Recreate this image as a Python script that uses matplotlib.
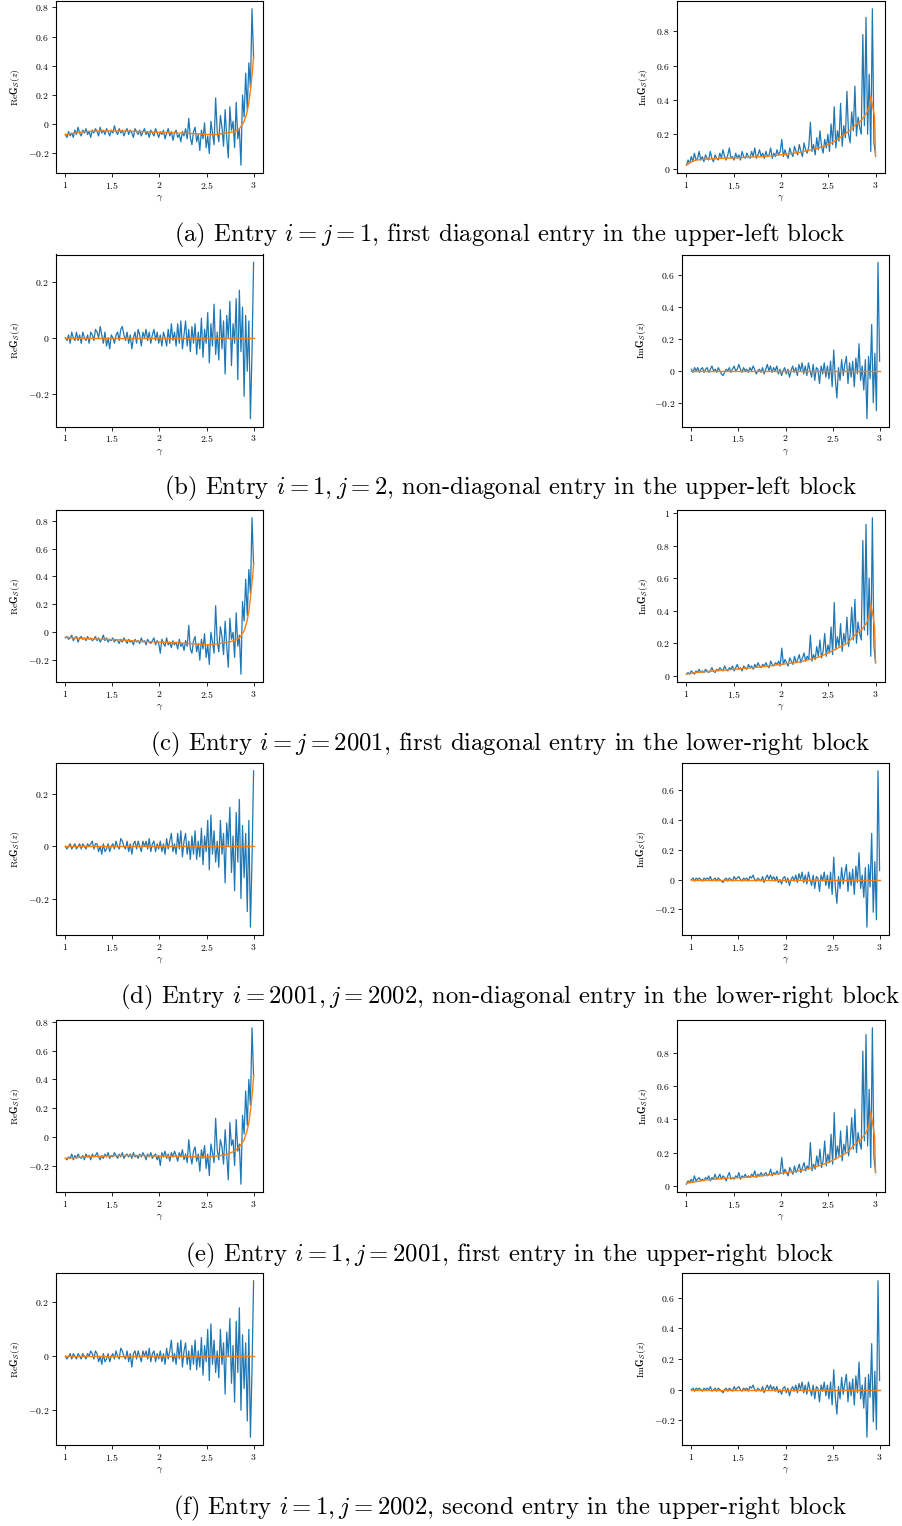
import numpy as np
import matplotlib
matplotlib.use("Agg")
import matplotlib.pyplot as plt
from matplotlib.ticker import FuncFormatter, MultipleLocator

plt.rcParams['mathtext.fontset'] = 'cm'
plt.rcParams['font.family'] = ['cmr10', 'DejaVu Serif']
plt.rcParams['axes.unicode_minus'] = False

# grid of gamma values for the noisy (blue) estimates
gamma = np.linspace(1, 3, 120)

# grid for the smooth (orange) curves
fit_gamma = [1.0, 1.05, 1.1, 1.2, 1.4, 1.6, 1.8, 2.0, 2.2, 2.4, 2.5, 2.6,
             2.7, 2.8, 2.85, 2.9, 2.93, 2.95, 2.97, 2.99, 3.0]
zero_gamma = [1.0, 3.0]
zero_fit = [0.0, 0.0]

# (a) i = j = 1
re_a = [-0.07, -0.09, -0.05, -0.08, -0.06, -0.09, -0.04, -0.07, -0.02, -0.06,
        -0.08, -0.04, -0.06, -0.03, -0.07, -0.05, -0.09, -0.04, -0.06, -0.03,
        -0.05, -0.08, -0.02, -0.06, -0.04, -0.07, -0.03, -0.05, -0.08, -0.04,
        -0.06, -0.01, -0.05, -0.07, -0.03, -0.06, -0.04, -0.08, -0.05, -0.03,
        -0.07, -0.04, -0.06, -0.09, -0.03, -0.05, -0.07, -0.04, -0.08, -0.05,
        -0.03, -0.07, -0.05, -0.09, -0.04, -0.06, -0.08, -0.03, -0.06, -0.09,
        -0.05, -0.07, -0.04, -0.10, -0.06, -0.03, -0.08, -0.05, -0.11, -0.06,
        -0.04, -0.09, -0.07, -0.12, -0.05, -0.08, -0.03, -0.10, 0.04, -0.09,
        -0.14, -0.05, -0.02, -0.12, -0.07, -0.18, -0.04, -0.10, 0.01, -0.16,
        -0.08, -0.20, 0.02, -0.06, -0.14, 0.18, -0.05, -0.12, 0.06, -0.02,
        -0.15, 0.10, -0.09, -0.23, 0.12, -0.04, 0.02, -0.16, 0.15, -0.10,
        -0.03, -0.28, 0.20, 0.05, 0.35, 0.10, 0.42, 0.25, 0.79, 0.45]
im_a = [0.02, 0.05, 0.03, 0.07, 0.04, 0.09, 0.05, 0.06, 0.10, 0.05,
        0.07, 0.04, 0.08, 0.06, 0.05, 0.10, 0.06, 0.04, 0.08, 0.06,
        0.05, 0.09, 0.06, 0.11, 0.07, 0.05, 0.08, 0.12, 0.06, 0.07,
        0.05, 0.09, 0.06, 0.08, 0.05, 0.10, 0.07, 0.06, 0.09, 0.07,
        0.06, 0.10, 0.07, 0.12, 0.06, 0.08, 0.11, 0.07, 0.09, 0.06,
        0.10, 0.07, 0.08, 0.12, 0.06, 0.09, 0.07, 0.11, 0.08, 0.10,
        0.17, 0.07, 0.11, 0.08, 0.06, 0.12, 0.09, 0.07, 0.13, 0.10,
        0.08, 0.14, 0.10, 0.07, 0.15, 0.11, 0.09, 0.13, 0.27, 0.10,
        0.14, 0.08, 0.18, 0.11, 0.22, 0.13, 0.09, 0.17, 0.12, 0.20,
        0.10, 0.26, 0.14, 0.36, 0.12, 0.22, 0.16, 0.38, 0.13, 0.25,
        0.18, 0.45, 0.20, 0.15, 0.33, 0.22, 0.48, 0.19, 0.30, 0.24,
        0.20, 0.78, 0.25, 0.88, 0.20, 0.55, 0.10, 0.93, 0.15, 0.08]
re_a_fit = [-0.07, -0.065, -0.06, -0.05, -0.045, -0.045, -0.05, -0.055, -0.06, -0.065, -0.07,
            -0.07, -0.06, -0.05, -0.03, 0.02, 0.08, 0.15, 0.25, 0.38, 0.46]
im_a_fit = [0.02, 0.04, 0.05, 0.055, 0.06, 0.065, 0.07, 0.08, 0.095, 0.12, 0.14,
            0.17, 0.21, 0.26, 0.28, 0.32, 0.35, 0.42, 0.36, 0.30, 0.07]

# (b) i = 1, j = 2
re_b = [0.00, -0.01, 0.01, -0.02, 0.02, 0.00, -0.01, 0.02, -0.01, 0.01,
        -0.02, 0.02, 0.00, -0.01, 0.01, -0.02, 0.02, 0.01, -0.01, 0.03,
        0.02, 0.00, 0.04, 0.01, -0.02, 0.02, -0.03, 0.00, -0.04, 0.01,
        0.00, -0.02, 0.01, 0.02, -0.01, 0.03, 0.04, 0.01, -0.01, 0.02,
        -0.02, 0.01, -0.04, 0.00, 0.02, -0.02, 0.03, 0.01, -0.03, 0.02,
        0.00, 0.03, -0.01, 0.02, -0.02, 0.01, 0.03, -0.01, 0.02, -0.02,
        0.01, -0.03, 0.02, 0.00, -0.03, 0.03, -0.02, 0.05, -0.01, 0.02,
        -0.03, 0.05, -0.02, 0.06, -0.04, 0.01, 0.06, -0.03, 0.03, -0.05,
        0.04, -0.02, 0.05, -0.06, 0.02, -0.04, 0.07, -0.07, 0.03, -0.02,
        0.09, -0.09, 0.05, -0.03, 0.12, -0.06, 0.02, -0.08, 0.10, -0.04,
        0.06, -0.13, 0.08, 0.00, 0.13, -0.10, 0.05, -0.02, 0.14, -0.15,
        0.17, -0.05, 0.11, -0.21, 0.08, -0.12, 0.06, -0.29, -0.05, 0.27]
im_b = [0.01, -0.01, 0.02, 0.00, 0.02, -0.01, 0.01, 0.02, -0.01, 0.01,
        0.02, -0.01, 0.01, 0.03, 0.00, 0.01, -0.01, 0.02, 0.00, -0.02,
        -0.03, -0.01, 0.01, 0.00, 0.02, -0.01, 0.01, 0.03, 0.00, 0.01,
        0.04, 0.01, -0.01, 0.02, 0.00, 0.01, -0.01, 0.02, 0.00, 0.03,
        0.01, -0.02, 0.00, 0.01, -0.01, 0.02, -0.02, 0.01, 0.04, 0.00,
        0.03, -0.01, 0.02, 0.00, 0.03, -0.02, 0.01, -0.03, 0.00, 0.02,
        -0.02, 0.01, -0.04, 0.00, 0.03, -0.01, 0.02, -0.03, 0.04, 0.00,
        0.05, -0.02, 0.03, -0.03, 0.05, 0.00, -0.04, 0.04, -0.06, 0.02,
        0.01, -0.08, 0.03, -0.02, 0.05, -0.04, 0.03, -0.05, 0.06, -0.10,
        0.13, -0.05, -0.17, 0.02, -0.06, 0.07, -0.03, 0.04, 0.09, -0.08,
        0.05, -0.04, 0.06, -0.10, 0.08, -0.02, 0.17, -0.06, 0.03, -0.12,
        0.07, -0.30, 0.09, -0.05, 0.29, -0.20, 0.11, -0.25, 0.68, 0.06]

# (c) i = j = 2001
re_c = [-0.04, -0.03, -0.05, -0.04, -0.02, -0.06, -0.04, -0.03, -0.07, -0.04,
        -0.03, -0.05, -0.04, -0.06, -0.03, -0.05, -0.04, -0.06, -0.05, -0.03,
        -0.06, -0.04, -0.07, -0.05, -0.02, -0.06, -0.04, -0.07, -0.05, -0.06,
        -0.04, -0.07, -0.05, -0.06, -0.08, -0.05, -0.07, -0.04, -0.06, -0.08,
        -0.05, -0.07, -0.06, -0.09, -0.05, -0.07, -0.06, -0.08, -0.04, -0.07,
        -0.06, -0.09, -0.05, -0.07, -0.08, -0.06, -0.04, -0.09, -0.06, -0.08,
        -0.15, -0.05, -0.08, -0.10, -0.04, -0.09, -0.07, -0.11, -0.06, -0.09,
        -0.07, -0.12, -0.05, -0.10, -0.08, -0.13, -0.06, -0.10, 0.05, -0.12,
        -0.15, -0.06, -0.03, -0.14, -0.08, -0.20, -0.05, -0.12, -0.01, -0.18,
        -0.09, -0.23, 0.00, -0.07, -0.15, 0.19, -0.06, -0.14, 0.04, -0.03,
        -0.16, 0.08, -0.10, -0.25, 0.10, -0.05, 0.00, -0.18, 0.14, -0.10,
        -0.02, -0.30, 0.22, 0.08, 0.38, 0.12, 0.45, 0.28, 0.82, 0.48]
im_c = [0.01, 0.02, 0.01, 0.03, 0.02, 0.01, 0.03, 0.02, 0.04, 0.02,
        0.03, 0.02, 0.04, 0.03, 0.02, 0.03, 0.05, 0.03, 0.02, 0.04,
        0.03, 0.05, 0.04, 0.03, 0.06, 0.04, 0.03, 0.05, 0.04, 0.06,
        0.03, 0.05, 0.07, 0.04, 0.05, 0.03, 0.06, 0.05, 0.04, 0.07,
        0.05, 0.06, 0.04, 0.07, 0.05, 0.08, 0.06, 0.05, 0.07, 0.06,
        0.08, 0.06, 0.05, 0.09, 0.07, 0.06, 0.08, 0.07, 0.09, 0.06,
        0.17, 0.07, 0.10, 0.08, 0.06, 0.11, 0.09, 0.07, 0.12, 0.08,
        0.10, 0.13, 0.08, 0.11, 0.14, 0.09, 0.12, 0.10, 0.25, 0.09,
        0.13, 0.10, 0.18, 0.12, 0.22, 0.11, 0.15, 0.26, 0.12, 0.19,
        0.14, 0.30, 0.13, 0.45, 0.16, 0.24, 0.18, 0.32, 0.15, 0.26,
        0.20, 0.36, 0.18, 0.25, 0.42, 0.22, 0.47, 0.20, 0.33, 0.26,
        0.22, 0.83, 0.28, 0.93, 0.25, 0.60, 0.12, 0.97, 0.18, 0.08]
re_c_fit = [-0.035, -0.038, -0.04, -0.045, -0.05, -0.055, -0.065, -0.07, -0.075, -0.085, -0.09,
            -0.085, -0.075, -0.06, -0.04, 0.01, 0.08, 0.15, 0.27, 0.40, 0.49]
im_c_fit = [0.01, 0.015, 0.02, 0.025, 0.035, 0.045, 0.055, 0.07, 0.085, 0.115, 0.14,
            0.17, 0.20, 0.26, 0.28, 0.32, 0.36, 0.44, 0.38, 0.30, 0.08]

# (d) i = 2001, j = 2002
re_d = [0.00, -0.01, 0.00, 0.01, -0.01, 0.00, 0.01, -0.01, 0.00, 0.01,
        -0.01, 0.01, 0.00, -0.01, 0.01, 0.00, 0.01, 0.02, -0.01, 0.01,
        0.01, -0.02, 0.00, -0.03, 0.01, -0.02, -0.01, 0.01, -0.02, 0.00,
        0.01, -0.01, 0.02, 0.00, -0.01, 0.03, 0.02, 0.00, -0.01, 0.02,
        -0.02, 0.01, -0.03, 0.01, 0.02, -0.01, 0.02, 0.00, -0.02, 0.02,
        0.00, 0.02, -0.01, 0.03, -0.02, 0.01, 0.02, -0.02, 0.01, -0.01,
        0.02, -0.02, 0.01, -0.03, 0.03, -0.01, 0.02, 0.05, -0.02, 0.01,
        -0.03, 0.05, -0.01, 0.06, -0.04, 0.02, 0.05, -0.03, 0.02, -0.05,
        0.04, -0.03, 0.06, -0.05, 0.02, -0.04, 0.07, -0.07, 0.04, -0.02,
        0.10, -0.09, 0.12, -0.03, 0.06, -0.06, 0.02, -0.08, 0.10, -0.03,
        0.05, -0.14, 0.09, 0.00, 0.15, -0.10, 0.04, -0.17, 0.13, -0.06,
        0.18, -0.20, 0.08, -0.12, 0.05, -0.25, 0.10, -0.31, -0.05, 0.29]
im_d = [0.00, 0.01, -0.01, 0.01, 0.00, 0.01, 0.00, -0.01, 0.01, 0.00,
        0.01, 0.00, 0.02, -0.01, 0.00, 0.01, -0.01, 0.01, 0.00, -0.01,
        -0.02, 0.00, 0.01, -0.01, 0.01, 0.00, -0.01, 0.02, 0.00, 0.01,
        0.02, 0.00, -0.01, 0.01, 0.00, 0.01, -0.01, 0.02, 0.01, 0.03,
        0.00, -0.01, 0.01, 0.00, -0.01, 0.02, -0.02, 0.01, 0.03, 0.00,
        0.03, 0.00, 0.02, -0.01, 0.02, -0.02, 0.00, -0.03, 0.01, 0.02,
        -0.02, 0.01, -0.04, 0.00, 0.02, -0.01, 0.03, -0.02, 0.04, 0.00,
        0.05, -0.02, 0.03, -0.03, 0.05, 0.00, -0.04, 0.03, -0.06, 0.02,
        0.01, -0.08, 0.03, -0.01, 0.05, -0.04, 0.03, -0.06, 0.05, -0.10,
        0.15, -0.05, -0.16, 0.02, -0.06, 0.08, -0.03, 0.04, 0.10, -0.08,
        0.05, -0.04, 0.07, -0.10, 0.09, -0.02, 0.18, -0.06, 0.03, -0.12,
        0.08, -0.32, 0.10, -0.05, 0.31, -0.22, 0.12, -0.27, 0.73, 0.06]

# (e) i = 1, j = 2001
re_e = [-0.15, -0.16, -0.14, -0.15, -0.12, -0.16, -0.13, -0.15, -0.12, -0.14,
        -0.15, -0.13, -0.16, -0.12, -0.14, -0.13, -0.16, -0.12, -0.14, -0.13,
        -0.11, -0.14, -0.16, -0.13, -0.15, -0.12, -0.14, -0.11, -0.15, -0.13,
        -0.14, -0.11, -0.13, -0.15, -0.12, -0.14, -0.11, -0.15, -0.13, -0.12,
        -0.14, -0.12, -0.15, -0.11, -0.14, -0.13, -0.15, -0.12, -0.14, -0.11,
        -0.13, -0.16, -0.12, -0.14, -0.11, -0.15, -0.13, -0.12, -0.16, -0.13,
        -0.20, -0.11, -0.14, -0.10, -0.15, -0.12, -0.17, -0.11, -0.14, -0.10,
        -0.13, -0.17, -0.11, -0.14, -0.09, -0.16, -0.12, -0.18, -0.02, -0.13,
        -0.19, -0.10, -0.07, -0.17, -0.12, -0.24, -0.09, -0.15, -0.06, -0.22,
        -0.12, -0.27, -0.05, -0.11, -0.18, 0.13, -0.09, -0.16, -0.02, -0.07,
        -0.19, 0.05, -0.12, -0.30, 0.10, -0.06, -0.02, -0.20, 0.12, -0.10,
        -0.05, -0.33, 0.15, 0.02, 0.32, 0.08, 0.40, 0.22, 0.76, 0.42]
im_e = [0.01, 0.03, 0.02, 0.04, 0.02, 0.06, 0.03, 0.04, 0.05, 0.03,
        0.04, 0.03, 0.05, 0.04, 0.06, 0.03, 0.05, 0.04, 0.07, 0.04,
        0.05, 0.07, 0.04, 0.06, 0.05, 0.03, 0.06, 0.08, 0.04, 0.05,
        0.04, 0.06, 0.05, 0.08, 0.04, 0.06, 0.05, 0.07, 0.05, 0.06,
        0.05, 0.07, 0.06, 0.09, 0.05, 0.07, 0.06, 0.08, 0.06, 0.07,
        0.08, 0.06, 0.07, 0.10, 0.06, 0.08, 0.07, 0.09, 0.07, 0.08,
        0.17, 0.07, 0.10, 0.08, 0.06, 0.11, 0.09, 0.07, 0.12, 0.08,
        0.10, 0.13, 0.08, 0.11, 0.14, 0.09, 0.12, 0.10, 0.26, 0.09,
        0.13, 0.10, 0.18, 0.12, 0.22, 0.11, 0.15, 0.27, 0.12, 0.19,
        0.14, 0.31, 0.13, 0.44, 0.16, 0.24, 0.18, 0.33, 0.15, 0.25,
        0.20, 0.36, 0.18, 0.25, 0.41, 0.22, 0.46, 0.20, 0.32, 0.26,
        0.22, 0.81, 0.27, 0.91, 0.24, 0.58, 0.11, 0.95, 0.17, 0.08]
re_e_fit = [-0.15, -0.147, -0.145, -0.14, -0.135, -0.13, -0.13, -0.135, -0.135, -0.14, -0.14,
            -0.135, -0.125, -0.10, -0.07, -0.02, 0.04, 0.10, 0.20, 0.33, 0.43]
im_e_fit = [0.015, 0.02, 0.025, 0.035, 0.045, 0.05, 0.06, 0.075, 0.09, 0.12, 0.14,
            0.17, 0.20, 0.26, 0.28, 0.32, 0.36, 0.44, 0.37, 0.30, 0.08]

# (f) i = 1, j = 2002
re_f = [0.00, -0.01, 0.00, 0.01, -0.01, 0.01, 0.00, -0.01, 0.01, 0.00,
        -0.01, 0.01, 0.00, -0.01, 0.01, 0.00, 0.02, 0.01, -0.01, 0.02,
        0.01, -0.02, 0.00, -0.03, 0.01, -0.02, -0.01, 0.01, -0.02, 0.00,
        0.01, -0.01, 0.02, 0.00, -0.01, 0.03, 0.02, 0.00, -0.01, 0.02,
        -0.02, 0.01, -0.04, 0.01, 0.02, -0.01, 0.02, 0.00, -0.02, 0.02,
        0.00, 0.02, -0.01, 0.03, -0.02, 0.01, 0.02, -0.02, 0.01, -0.01,
        0.02, -0.02, 0.01, -0.03, 0.03, -0.01, 0.02, 0.06, -0.02, 0.01,
        -0.03, 0.05, -0.01, 0.06, -0.04, 0.02, 0.05, -0.03, 0.02, -0.05,
        0.04, -0.03, 0.06, -0.05, 0.02, -0.04, 0.07, -0.07, 0.04, -0.02,
        0.10, -0.09, 0.12, -0.03, 0.06, -0.06, 0.02, -0.08, 0.10, -0.03,
        0.05, -0.14, 0.09, 0.00, 0.14, -0.10, 0.04, -0.17, 0.13, -0.06,
        0.18, -0.20, 0.08, -0.12, 0.05, -0.24, 0.10, -0.30, -0.05, 0.28]
im_f = [0.00, 0.01, -0.01, 0.01, 0.00, 0.01, 0.00, -0.01, 0.01, 0.00,
        0.01, 0.00, 0.02, -0.01, 0.00, 0.01, -0.01, 0.01, 0.00, -0.01,
        -0.02, 0.00, 0.01, -0.01, 0.01, 0.00, -0.01, 0.02, 0.00, 0.01,
        0.02, 0.00, -0.01, 0.01, 0.00, 0.01, -0.01, 0.02, 0.01, 0.03,
        0.00, -0.01, 0.01, 0.00, -0.01, 0.02, -0.02, 0.01, 0.03, 0.00,
        0.03, 0.00, 0.02, -0.01, 0.02, -0.02, 0.00, -0.03, 0.01, 0.02,
        -0.02, 0.01, -0.04, 0.00, 0.02, -0.01, 0.03, -0.02, 0.04, 0.00,
        0.05, -0.02, 0.03, -0.03, 0.05, 0.00, -0.04, 0.03, -0.06, 0.02,
        0.01, -0.08, 0.03, -0.01, 0.05, -0.04, 0.03, -0.06, 0.05, -0.10,
        0.13, -0.05, -0.16, 0.02, -0.06, 0.08, -0.03, 0.04, 0.10, -0.08,
        0.05, -0.04, 0.07, -0.10, 0.09, -0.02, 0.18, -0.06, 0.03, -0.12,
        0.08, -0.31, 0.10, -0.05, 0.30, -0.21, 0.12, -0.26, 0.71, 0.06]

captions = [
    r"(a) Entry $i = j = 1$, first diagonal entry in the upper-left block",
    r"(b) Entry $i = 1, j = 2$, non-diagonal entry in the upper-left block",
    r"(c) Entry $i = j = 2001$, first diagonal entry in the lower-right block",
    r"(d) Entry $i = 2001, j = 2002$, non-diagonal entry in the lower-right block",
    r"(e) Entry $i = 1, j = 2001$, first entry in the upper-right block",
    r"(f) Entry $i = 1, j = 2002$, second entry in the upper-right block",
]

rows = [
    (re_a, re_a_fit, fit_gamma, im_a, im_a_fit, fit_gamma),
    (re_b, zero_fit, zero_gamma, im_b, zero_fit, zero_gamma),
    (re_c, re_c_fit, fit_gamma, im_c, im_c_fit, fit_gamma),
    (re_d, zero_fit, zero_gamma, im_d, zero_fit, zero_gamma),
    (re_e, re_e_fit, fit_gamma, im_e, im_e_fit, fit_gamma),
    (re_f, zero_fit, zero_gamma, im_f, zero_fit, zero_gamma),
]

W, H = 903, 1526
fig = plt.figure(figsize=(W / 100, H / 100), dpi=100)


def px_axes(left, top, right, bottom):
    return fig.add_axes([left / W, 1 - bottom / H, (right - left) / W, (bottom - top) / H])


def style(ax, ylabel):
    fmt = FuncFormatter(lambda v, p: "$%g$" % round(v, 6))
    ax.xaxis.set_major_locator(MultipleLocator(0.5))
    ax.yaxis.set_major_locator(MultipleLocator(0.2))
    ax.xaxis.set_major_formatter(fmt)
    ax.yaxis.set_major_formatter(fmt)
    ax.tick_params(labelsize=7, length=3, width=0.6, pad=2)
    for s in ax.spines.values():
        s.set_linewidth(0.8)
    ax.set_xlabel(r"$\gamma$", fontsize=7, labelpad=2)
    ax.set_ylabel(ylabel, fontsize=7, labelpad=4)


tops = [1, 254.5, 510, 763, 1020, 1273]
right_lefts = [677, 682, 677, 682, 677, 682]
right_rights = [885, 889, 885, 889, 885, 889]
cap_y = [235, 488, 744, 997, 1255, 1508]

for k, (re, re_fit, re_fx, im, im_fit, im_fx) in enumerate(rows):
    top = tops[k]
    bot = top + 172
    ax1 = px_axes(56, top, 263, bot)
    ax1.plot(gamma, re, color="#1f77b4", lw=0.9)
    ax1.plot(re_fx, re_fit, color="#ff7f0e", lw=1.0)
    style(ax1, r"$\mathrm{Re}\mathbf{G}_{\mathcal{S}}(z)$")

    ax2 = px_axes(right_lefts[k], top, right_rights[k], bot)
    ax2.plot(gamma, im, color="#1f77b4", lw=0.9)
    ax2.plot(im_fx, im_fit, color="#ff7f0e", lw=1.0)
    style(ax2, r"$\mathrm{Im}\mathbf{G}_{\mathcal{S}}(z)$")

    fig.text(510 / W, 1 - cap_y[k] / H, captions[k], ha="center", va="center", fontsize=17.8)

fig.savefig("out.png", dpi=100)
